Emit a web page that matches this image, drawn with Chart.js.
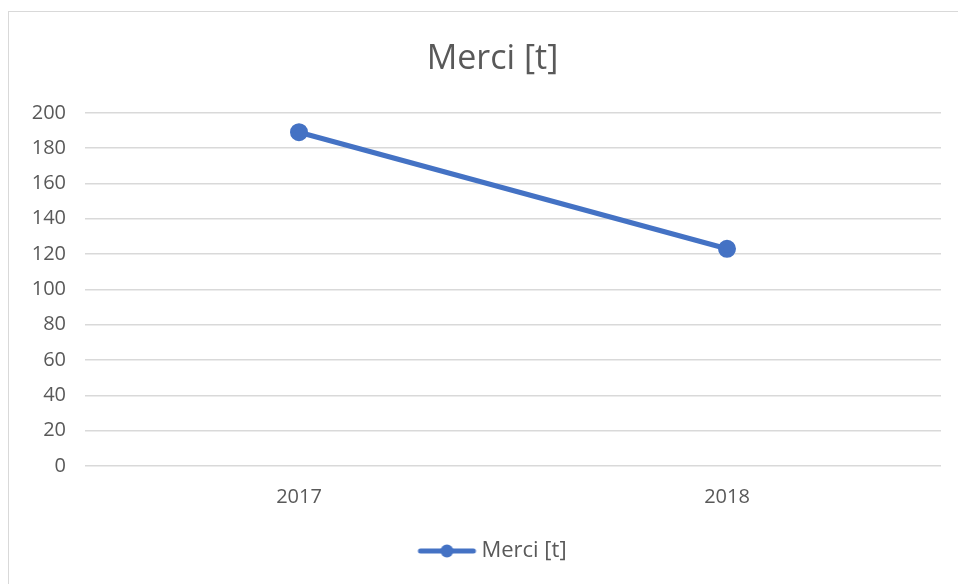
<!DOCTYPE html>
<html>
<head>
<meta charset="utf-8">
<script src="https://cdn.jsdelivr.net/npm/chart.js@4/dist/chart.umd.min.js"></script>
<style>
    html, body { margin: 0; padding: 0; background: #fff; overflow: hidden; }
    #frame { position: absolute; left: 8px; top: 11px; width: 1000px; height: 620px; border: 1px solid #d9d9d9; }
    #wrap { position: absolute; left: 0; top: 0; width: 958px; height: 584px; }
</style>
</head>
<body>
<div id="frame"></div>
<div id="wrap"><canvas id="chart"></canvas></div>
<script>
const years = ['2017', '2018'];
const merci = [189, 123];
const seriesName = 'Merci [t]';
const yMin = 0;
const yMax = 200;
const yStep = 20;

const blue = '#4472c4';
const textGray = '#595959';

// legend marker: line with a dot in the middle, drawn a bit right so the text sits close
function legendMarker() {
    const c = document.createElement('canvas');
    c.width = 70; c.height = 14;
    const g = c.getContext('2d');
    g.strokeStyle = blue;
    g.lineWidth = 5;
    g.lineCap = 'round';
    g.beginPath(); g.moveTo(11, 7); g.lineTo(64, 7); g.stroke();
    g.fillStyle = blue;
    g.beginPath(); g.arc(37.5, 7, 6.5, 0, Math.PI * 2); g.fill();
    return c;
}

// Excel centres title and legend a little right of the canvas middle
const shiftTitleLegend = {
    id: 'shiftTitleLegend',
    afterLayout(chart) {
        const dx = 22;
        [chart.titleBlock, chart.legend].forEach(b => {
            if (!b) return;
            b.left += dx;
            b.right += dx;
        });
    }
};

Chart.defaults.font.family = '"Open Sans", "Segoe UI", sans-serif';
Chart.defaults.color = textGray;

new Chart(document.getElementById('chart'), {
    type: 'line',
    data: {
        labels: years,
        datasets: [{
            label: seriesName,
            data: merci,
            borderColor: blue,
            backgroundColor: blue,
            borderWidth: 5,
            pointRadius: 6.5,
            pointHoverRadius: 6.5,
            pointBackgroundColor: blue,
            pointBorderColor: blue,
            tension: 0
        }]
    },
    options: {
        responsive: true,
        maintainAspectRatio: false,
        animation: false,
        layout: { padding: { left: 0, right: 17, top: 0, bottom: 12 } },
        plugins: {
            title: {
                display: true,
                text: seriesName,
                color: textGray,
                font: { size: 34, weight: 'normal' },
                padding: { top: 39, bottom: 33 }
            },
            legend: {
                position: 'bottom',
                labels: {
                    usePointStyle: true,
                    pointStyle: legendMarker(),
                    pointStyleWidth: 52,
                    boxHeight: 14,
                    font: { size: 22 },
                    color: textGray,
                    padding: 14
                }
            },
            tooltip: { enabled: false }
        },
        scales: {
            x: {
                offset: true,
                grid: { display: false },
                border: { display: false },
                ticks: { font: { size: 20 }, color: textGray, padding: 11 },
                afterFit: function(s) { s.height = 60; }
            },
            y: {
                min: yMin,
                max: yMax,
                ticks: { stepSize: yStep, font: { size: 20 }, color: textGray, padding: 19 },
                grid: { color: '#d9d9d9', lineWidth: 1.5, drawTicks: false },
                border: { display: false },
                afterFit: function(s) { s.width = 85; }
            }
        }
    },
    plugins: [shiftTitleLegend]
});
</script>
</body>
</html>
